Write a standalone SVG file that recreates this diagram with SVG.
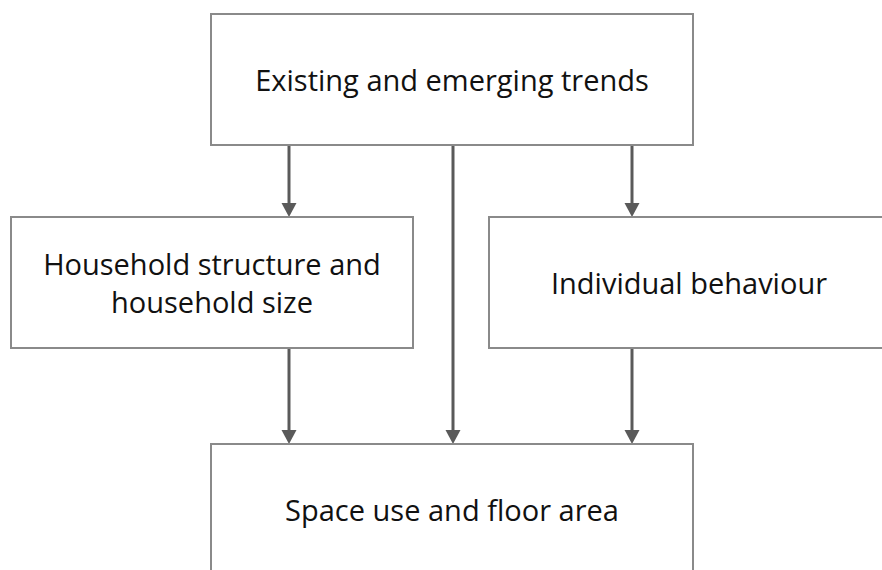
<svg xmlns="http://www.w3.org/2000/svg" width="882" height="570" viewBox="0 0 882 570">
  <defs>
    <style>
      .box { fill: #ffffff; stroke: #8a8a8a; stroke-width: 2; }
      .label { font-family: "Open Sans", "Noto Sans", "DejaVu Sans", sans-serif; font-size: 29px; fill: #111111; text-anchor: middle; }
      .edge { stroke: #5a5a5a; stroke-width: 3; fill: none; }
      .head { fill: #5a5a5a; }
    </style>
  </defs>
  <rect width="882" height="570" fill="#ffffff"/>

  <g id="connectors">
    <line class="edge" x1="289" y1="145" x2="289" y2="204"/>
    <polygon class="head" points="281.5,203 296.5,203 289,217"/>
    <line class="edge" x1="453" y1="145" x2="453" y2="431"/>
    <polygon class="head" points="445.5,430 460.5,430 453,444"/>
    <line class="edge" x1="632" y1="145" x2="632" y2="204"/>
    <polygon class="head" points="624.5,203 639.5,203 632,217"/>
    <line class="edge" x1="289" y1="348" x2="289" y2="431"/>
    <polygon class="head" points="281.5,430 296.5,430 289,444"/>
    <line class="edge" x1="632" y1="348" x2="632" y2="431"/>
    <polygon class="head" points="624.5,430 639.5,430 632,444"/>
  </g>

  <g id="trends">
    <rect class="box" x="211" y="14" width="482" height="131"/>
    <text class="label" x="452" y="91">Existing and emerging trends</text>
  </g>

  <g id="household">
    <rect class="box" x="11" y="217" width="402" height="131"/>
    <text class="label" x="212" y="275">Household structure and</text>
    <text class="label" x="212" y="313">household size</text>
  </g>

  <g id="behaviour">
    <rect class="box" x="489" y="217" width="400" height="131"/>
    <text class="label" x="689" y="294">Individual behaviour</text>
  </g>

  <g id="space">
    <rect class="box" x="211" y="444" width="482" height="140"/>
    <text class="label" x="452" y="521">Space use and floor area</text>
  </g>
</svg>
